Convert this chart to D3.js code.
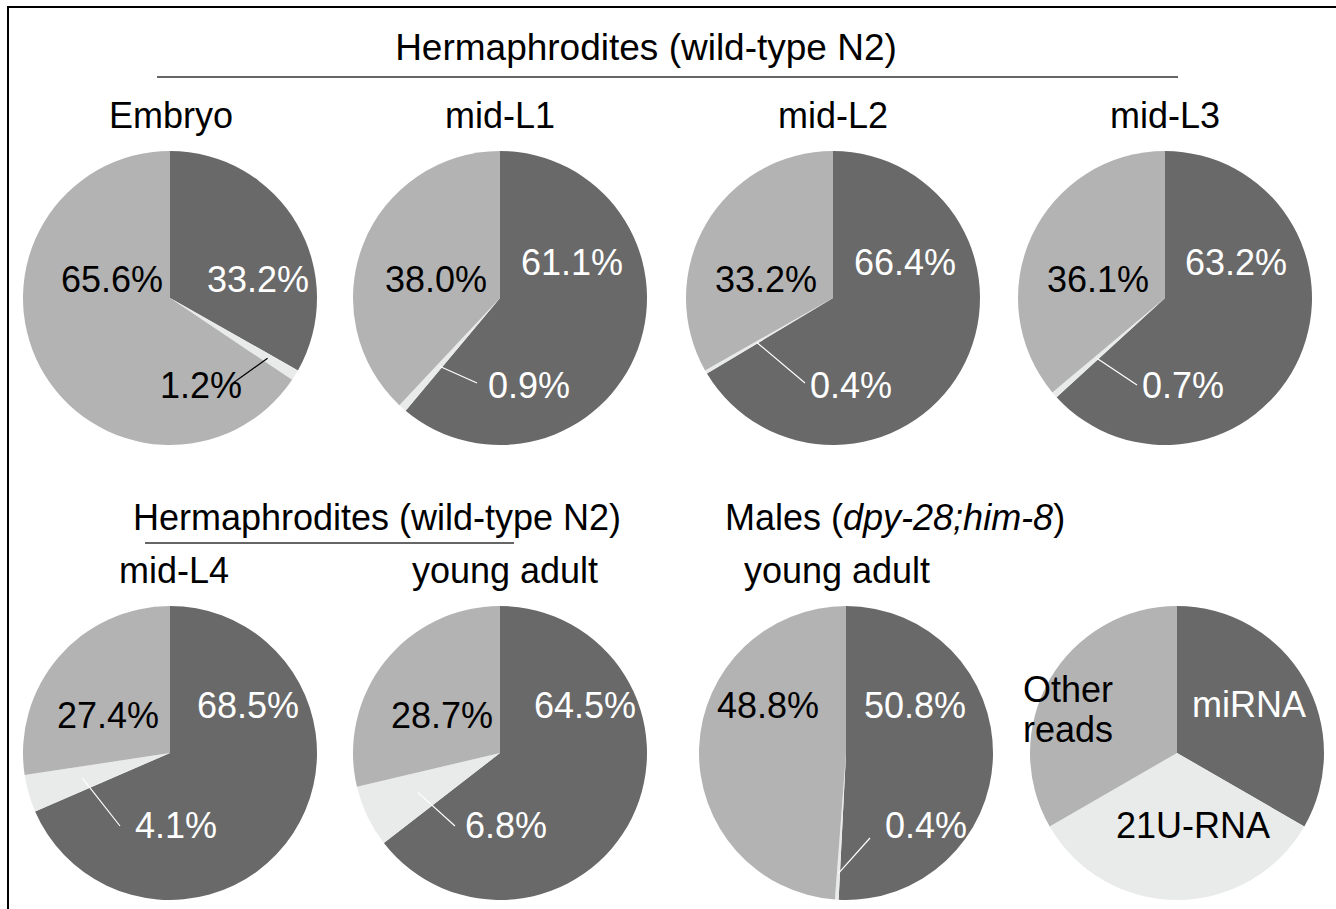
<!DOCTYPE html>
<html>
<head>
<meta charset="utf-8">
<script src="https://cdn.jsdelivr.net/npm/d3@7"></script>
<style>
  body { margin: 0; background: #fff; }
  text { font-family: "Liberation Sans", Arial, Helvetica, sans-serif; }
</style>
</head>
<body>
<div id="canvas"></div>
<script>
const w = 1336;
const h = 909;

// data
const stages = ["Embryo", "mid-L1", "mid-L2", "mid-L3", "mid-L4", "young adult", "young adult"];
const categories = ["miRNA", "21U-RNA", "Other reads"];
const miRNA = [33.2, 61.1, 66.4, 63.2, 68.5, 64.5, 50.8];
const u21RNA = [1.2, 0.9, 0.4, 0.7, 4.1, 6.8, 0.4];
const otherReads = [65.6, 38.0, 33.2, 36.1, 27.4, 28.7, 48.8];
const legendShares = [1, 1, 1];

// layout
const r = 147;
const fs = 36;
const centers = [[170, 298], [500, 298], [833, 298], [1165, 298], [170, 753], [500, 753], [846, 753]];
const legendCenter = [1177, 753];
// label offsets [dx, baseline dy] for miRNA, 21U, other
const labelPos = [
  [[88, -6], [31, 100], [-58, -6]],
  [[72, -23], [29, 100], [-64, -6]],
  [[72, -23], [18, 100], [-67, -6]],
  [[71, -23], [18, 100], [-67, -6]],
  [[78, -35], [6, 85], [-62, -25]],
  [[85, -35], [6, 85], [-58, -25]],
  [[69, -35], [80, 85], [-78, -35]]
];
// leader line for small slice: [radius fraction, end dx, end dy]
const leaders = [[0.78, 63, 85], [0.62, -23, 85], [0.6, -28, 85], [0.62, -28, 87], [0.62, -50, 73], [0.62, -45, 73], [0.82, 24, 85]];
const titlePos = [[171, 128], [500, 128], [833, 128], [1165, 128], [174, 583], [505, 583], [837, 583]];

const colors = ["#696969", "#e9eaea", "#b3b3b3"];
const textColors = ["#fff", "#fff", "#000"];

let svg = d3.select("#canvas").append("svg").attr("width", w).attr("height", h);
svg.append("rect").attr("width", w).attr("height", h).attr("fill", "#fff");

// frame
svg.append("path").attr("d", "M8," + h + " V7 H" + w)
  .attr("fill", "none").attr("stroke", "#000").attr("stroke-width", 2);

let pie = d3.pie().sort(null);
let arc = d3.arc().innerRadius(0).outerRadius(r);

function drawPie(i)
{
  let vals = [miRNA[i], u21RNA[i], otherReads[i]];
  let g = svg.append("g").attr("transform", "translate(" + centers[i][0] + "," + centers[i][1] + ")");
  let arcs = pie(vals);
  g.selectAll("path").data(arcs).enter().append("path")
    .attr("d", arc)
    .attr("fill", (d, k) => colors[k]);

  // leader line for the thin 21U slice
  let a = (arcs[1].startAngle + arcs[1].endAngle) / 2;
  let lr = leaders[i][0] * r;
  let smallOnDark = i > 0;
  g.append("line")
    .attr("x1", lr * Math.sin(a)).attr("y1", -lr * Math.cos(a))
    .attr("x2", leaders[i][1]).attr("y2", leaders[i][2])
    .attr("stroke", smallOnDark ? "#fff" : "#000").attr("stroke-width", 1.2);

  g.selectAll("text.lab").data(vals).enter().append("text")
    .attr("class", "lab")
    .attr("x", (d, k) => labelPos[i][k][0])
    .attr("y", (d, k) => labelPos[i][k][1])
    .attr("text-anchor", "middle")
    .attr("font-size", fs)
    .attr("fill", (d, k) => k == 1 ? (smallOnDark ? "#fff" : "#000") : textColors[k])
    .text((d) => d.toFixed(1) + "%");

  svg.append("text")
    .attr("x", titlePos[i][0]).attr("y", titlePos[i][1])
    .attr("text-anchor", "middle").attr("font-size", fs)
    .text(stages[i]);
}

for (let i = 0; i < stages.length; i++) {
  drawPie(i);
}

// legend pie
let lg = svg.append("g").attr("transform", "translate(" + legendCenter[0] + "," + legendCenter[1] + ")");
lg.selectAll("path").data(pie(legendShares)).enter().append("path")
  .attr("d", arc).attr("fill", (d, k) => colors[k]);
lg.append("text").attr("x", 72).attr("y", -36).attr("text-anchor", "middle")
  .attr("font-size", fs).attr("fill", "#fff").text(categories[0]);
lg.append("text").attr("x", 16).attr("y", 85).attr("text-anchor", "middle")
  .attr("font-size", fs).attr("fill", "#000").text(categories[1]);
let ot = lg.append("text").attr("text-anchor", "middle").attr("font-size", fs).attr("fill", "#000");
ot.append("tspan").attr("x", -109).attr("y", -51).text("Other");
ot.append("tspan").attr("x", -109).attr("y", -11).text("reads");

// group headings
svg.append("text").attr("x", 646).attr("y", 60).attr("text-anchor", "middle")
  .attr("font-size", 37).text("Hermaphrodites (wild-type N2)");
svg.append("line").attr("x1", 157).attr("x2", 1178).attr("y1", 77).attr("y2", 77)
  .attr("stroke", "#333").attr("stroke-width", 1.5);

svg.append("text").attr("x", 377).attr("y", 530).attr("text-anchor", "middle")
  .attr("font-size", fs).text("Hermaphrodites (wild-type N2)");
svg.append("line").attr("x1", 145).attr("x2", 514).attr("y1", 543).attr("y2", 543)
  .attr("stroke", "#333").attr("stroke-width", 1.5);

let males = svg.append("text").attr("x", 725).attr("y", 530).attr("font-size", fs);
males.append("tspan").text("Males (");
males.append("tspan").attr("font-style", "italic").text("dpy-28;him-8");
males.append("tspan").text(")");
</script>
</body>
</html>
